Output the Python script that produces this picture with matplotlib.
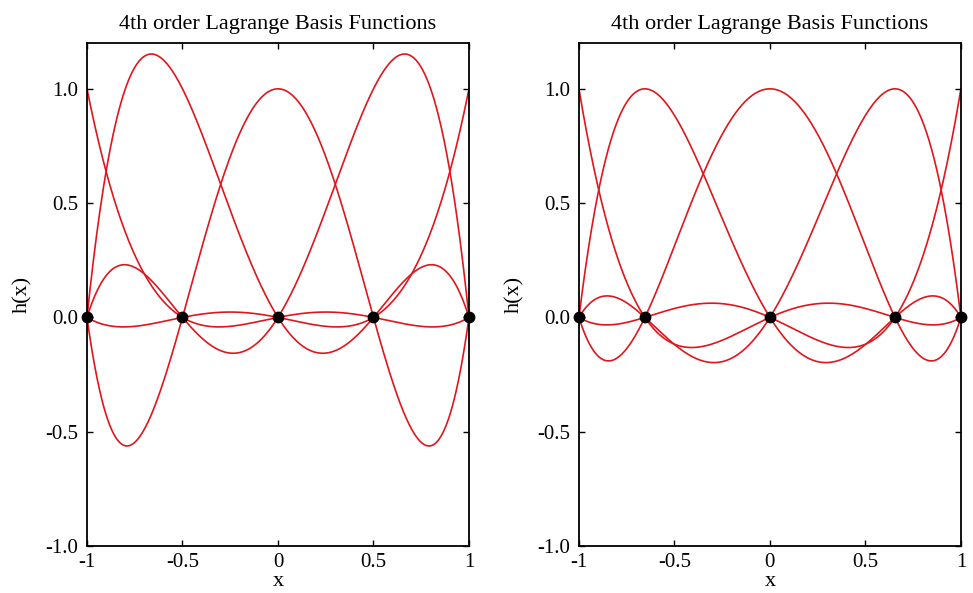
import numpy as np
import matplotlib
matplotlib.use("Agg")
import matplotlib.pyplot as plt

plt.rcParams['font.family'] = ['Liberation Serif', 'DejaVu Serif']
plt.rcParams['mathtext.fontset'] = 'stix'

# interpolation nodes for the two 4th order bases
equi_nodes = [-1.0, -0.5, 0.0, 0.5, 1.0]
gll_nodes = [-1.0, -0.6547, 0.0, 0.6547, 1.0]

x_ticks = [-1, -0.5, 0, 0.5, 1]
x_tick_labels = ['-1', '-0.5', '0', '0.5', '1']
y_ticks = [-1.0, -0.5, 0.0, 0.5, 1.0]
y_tick_labels = ['-1.0', '-0.5', '0.0', '0.5', '1.0']

title = '4th order Lagrange Basis Functions'
line_color = '#e0161c'


def lagrange_basis(nodes, j, x):
    h = np.ones_like(x)
    for m, xm in enumerate(nodes):
        if m != j:
            h *= (x - xm) / (nodes[j] - xm)
    return h


def draw_panel(ax, nodes):
    x = np.linspace(-1, 1, 600)
    for j in range(len(nodes)):
        ax.plot(x, lagrange_basis(nodes, j, x), color=line_color, lw=1.2,
                zorder=2)
    ax.plot(nodes, np.zeros(len(nodes)), 'o', color='black', ms=7.5,
            zorder=3, clip_on=False)
    ax.set_xlim(-1, 1)
    ax.set_ylim(-1, 1.2)
    ax.set_xticks(x_ticks)
    ax.set_xticklabels(x_tick_labels)
    ax.set_yticks(y_ticks)
    ax.set_yticklabels(y_tick_labels)
    ax.tick_params(direction='in', top=True, right=True, length=4,
                   width=1, labelsize=15)
    ax.tick_params(axis='y', pad=6.5)
    ax.tick_params(axis='x', pad=5)
    for s in ax.spines.values():
        s.set_linewidth(1.3)
    ax.set_title(title, fontsize=16, pad=10)
    ax.set_xlabel('x', fontsize=16, labelpad=0)
    ax.set_ylabel('h(x)', fontsize=16, labelpad=9)


fig = plt.figure(figsize=(9.73, 5.93), dpi=100)
ax1 = fig.add_axes([0.0894, 0.0793, 0.3926, 0.848])
ax2 = fig.add_axes([0.5950, 0.0793, 0.3926, 0.848])
draw_panel(ax1, equi_nodes)
draw_panel(ax2, gll_nodes)

fig.savefig('out.png', dpi=100)
